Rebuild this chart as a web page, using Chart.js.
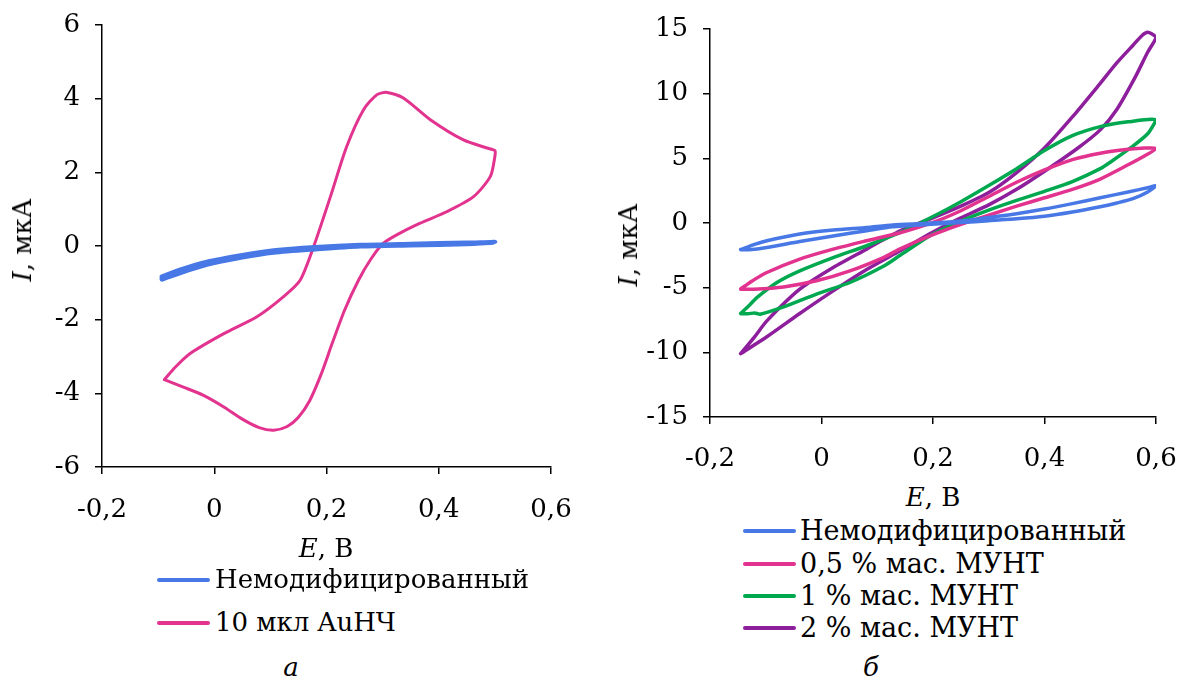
<!DOCTYPE html>
<html>
<head>
<meta charset="utf-8">
<script src="https://cdn.jsdelivr.net/npm/chart.js@4.4.1/dist/chart.umd.min.js"></script>
<style>
    body { margin: 0; background: #fff; }
    #page { position: relative; width: 1180px; height: 682px; overflow: hidden; font-family: "DejaVu Serif", serif; color: #000; }
    canvas { position: absolute; top: 0; }
    .lbl { position: absolute; font-size: 26px; line-height: 1; white-space: nowrap; transform: translate(-50%, -50%); }
    .ytitle { transform: translate(-50%, -50%) rotate(-90deg); }
    .legend { position: absolute; line-height: 1; }
    .legend div { position: absolute; white-space: nowrap; }
    .legend span.ln { position: absolute; height: 4px; border-radius: 2px; }
    #legendA { font-size: 26px; }
    #legendB { font-size: 27px; }
</style>
</head>
<body>
<div id="page">
    <canvas id="chartA" width="590" height="540" style="left:0"></canvas>
    <canvas id="chartB" width="590" height="480" style="left:590px"></canvas>

    <div class="lbl ytitle" style="left:22px; top:240px"><i>I</i>, мкА</div>
    <div class="lbl" style="left:326px; top:548px"><i>E</i>, В</div>
    <div class="lbl ytitle" style="left:628px; top:245px"><i>I</i>, мкА</div>
    <div class="lbl" style="left:933px; top:497px"><i>E</i>, В</div>

    <div class="legend" id="legendA"></div>
    <div class="legend" id="legendB"></div>

    <div class="lbl" style="left:291px; top:667px"><i>а</i></div>
    <div class="lbl" style="left:871px; top:667px"><i>б</i></div>
</div>
<script>
// --- chart а: bare electrode vs 10 µl AuNP ---
const xTicks = [-0.2, 0, 0.2, 0.4, 0.6];
const yTicksA = [-6, -4, -2, 0, 2, 4, 6];
const yTicksB = [-15, -10, -5, 0, 5, 10, 15];

const labelsA = ['Немодифицированный', '10 мкл AuНЧ'];
const labelsB = ['Немодифицированный', '0,5 % мас. МУНТ', '1 % мас. МУНТ', '2 % мас. МУНТ'];

const colors = {
    blue: '#4878E6',
    pink: '#E2338F',
    green: '#00A84F',
    purple: '#8E1F9C'
};

// [E, I] pairs, loop traced around
const bareA = [
    [-0.093, -0.84], [-0.06, -0.65], [-0.013, -0.44], [0.05, -0.26], [0.106, -0.13], [0.18, -0.04],
    [0.26, 0.02], [0.35, 0.05], [0.45, 0.08], [0.5, 0.1],
    [0.45, 0.06], [0.35, 0.03], [0.26, 0.0], [0.18, -0.08], [0.106, -0.17], [0.05, -0.3],
    [-0.013, -0.5], [-0.06, -0.72], [-0.093, -0.9]
];
const auA = [
    [-0.089, -3.63], [-0.07, -3.3], [-0.043, -2.92], [0.017, -2.38], [0.076, -1.92], [0.123, -1.38],
    [0.153, -0.93], [0.177, -0.02], [0.207, 1.34], [0.236, 2.7], [0.266, 3.7], [0.29, 4.11],
    [0.308, 4.17], [0.337, 4.02], [0.385, 3.43], [0.444, 2.88], [0.486, 2.66], [0.5, 2.59],
    [0.5, 2.43], [0.492, 1.89], [0.462, 1.34], [0.414, 0.93], [0.367, 0.62], [0.331, 0.35],
    [0.301, 0.07], [0.278, -0.38], [0.257, -0.93], [0.232, -1.75], [0.21, -2.65], [0.19, -3.5],
    [0.17, -4.2], [0.15, -4.65], [0.13, -4.9], [0.106, -5.0], [0.08, -4.93], [0.05, -4.7],
    [0.017, -4.37], [-0.02, -4.05], [-0.055, -3.83], [-0.089, -3.63]
];

// --- chart б: MWCNT loadings ---
const bareB = [
    [-0.145, -2.05], [-0.12, -1.65], [-0.098, -1.37], [-0.039, -0.85], [0.021, -0.54], [0.081, -0.34],
    [0.128, -0.15], [0.19, -0.02], [0.25, 0.15], [0.3, 0.43], [0.35, 0.72], [0.4, 1.08],
    [0.45, 1.5], [0.5, 1.95], [0.55, 2.4], [0.585, 2.72], [0.6, 2.87],
    [0.585, 2.4], [0.56, 1.9], [0.53, 1.55], [0.5, 1.26], [0.45, 0.85], [0.4, 0.52],
    [0.35, 0.32], [0.3, 0.18], [0.25, 0.03], [0.19, -0.12], [0.128, -0.3], [0.081, -0.6],
    [0.021, -1.0], [-0.039, -1.43], [-0.098, -1.89], [-0.13, -2.07], [-0.145, -2.07]
];
const cnt05 = [
    [-0.145, -5.1], [-0.125, -4.5], [-0.098, -3.83], [-0.039, -2.79], [0.021, -2.02], [0.081, -1.37],
    [0.141, -0.75], [0.2, 0.05], [0.25, 0.95], [0.3, 2.05], [0.35, 3.15], [0.4, 4.1],
    [0.45, 4.9], [0.5, 5.4], [0.55, 5.7], [0.58, 5.8], [0.6, 5.75],
    [0.58, 5.2], [0.55, 4.5], [0.5, 3.4], [0.45, 2.6], [0.4, 1.95], [0.35, 1.3],
    [0.3, 0.6], [0.25, -0.1], [0.2, -0.9], [0.141, -2.0], [0.111, -2.67], [0.051, -3.7],
    [-0.009, -4.47], [-0.068, -4.94], [-0.122, -5.12], [-0.145, -5.12]
];
const cnt1 = [
    [-0.145, -7.0], [-0.128, -6.3], [-0.116, -5.77], [-0.08, -4.6], [-0.039, -3.7], [0.021, -2.67],
    [0.081, -1.76], [0.141, -0.73], [0.2, 0.5], [0.25, 1.65], [0.3, 2.9], [0.35, 4.2],
    [0.4, 5.6], [0.45, 6.75], [0.5, 7.45], [0.55, 7.82], [0.6, 7.98],
    [0.585, 6.9], [0.556, 5.86], [0.518, 4.7], [0.5, 4.2], [0.45, 3.2], [0.4, 2.45],
    [0.35, 1.75], [0.3, 1.0], [0.25, 0.15], [0.2, -0.85], [0.141, -2.5], [0.111, -3.35],
    [0.051, -4.6], [-0.009, -5.5], [-0.068, -6.49], [-0.11, -7.05], [-0.12, -6.95],
    [-0.132, -7.02], [-0.145, -7.0]
];
const cnt2 = [
    [-0.145, -10.1], [-0.12, -8.8], [-0.098, -7.57], [-0.039, -5.12], [0.021, -3.44], [0.081, -2.02],
    [0.141, -0.6], [0.2, 0.4], [0.25, 1.3], [0.3, 2.35], [0.35, 3.9], [0.4, 5.8],
    [0.45, 8.2], [0.5, 10.8], [0.53, 12.4], [0.56, 13.8], [0.575, 14.5],
    [0.585, 14.75], [0.595, 14.55], [0.6, 14.33],
    [0.585, 13.2], [0.563, 11.3], [0.53, 8.8], [0.5, 7.2], [0.46, 5.8], [0.4, 4.0],
    [0.35, 2.6], [0.3, 1.4], [0.25, 0.4], [0.2, -0.7], [0.141, -2.15], [0.081, -3.6],
    [0.021, -5.25], [-0.039, -7.0], [-0.098, -8.8], [-0.145, -10.1]
];

const FONT = { family: '"DejaVu Serif", serif', size: 26 };

function toXY(pairs) {
    return pairs.map(p => ({ x: p[0], y: p[1] }));
}

function fmtComma(value) {
    const v = Math.round(value * 10) / 10;
    return String(v).replace('.', ',');
}

function makeDataset(label, pairs, color, width) {
    return {
        label: label,
        data: toXY(pairs),
        borderColor: color,
        backgroundColor: color,
        borderWidth: width,
        showLine: true,
        fill: false,
        pointRadius: 0,
        tension: 0.25,
        borderJoinStyle: 'round',
        borderCapStyle: 'round'
    };
}

function axisOptions(min, max, ticksList, fitSize, isY, pad) {
    return {
        type: 'linear',
        min: min,
        max: max,
        afterBuildTicks: scale => {
            scale.ticks = ticksList.map(v => ({ value: v }));
        },
        afterFit: scale => {
            if (isY) scale.width = fitSize;
            else scale.height = fitSize;
            // plot area is set by layout.padding alone
            scale.paddingLeft = 0;
            scale.paddingRight = 0;
            scale.paddingTop = 0;
            scale.paddingBottom = 0;
        },
        ticks: {
            color: '#000',
            font: FONT,
            padding: pad,
            maxRotation: 0,
            autoSkip: false,
            callback: value => fmtComma(value)
        },
        grid: {
            drawOnChartArea: false,
            drawTicks: true,
            tickLength: 7,
            color: '#000',
            lineWidth: 1.5
        },
        border: { color: '#000', width: 1.5 }
    };
}

function buildChart(id, datasets, yMin, yMax, yTicks, yWidth, xHeight, xPad, padding) {
    return new Chart(document.getElementById(id), {
        type: 'scatter',
        data: { datasets: datasets },
        options: {
            responsive: false,
            animation: false,
            layout: { padding: padding },
            plugins: {
                legend: { display: false },
                tooltip: { enabled: false }
            },
            scales: {
                x: axisOptions(-0.2, 0.6, xTicks, xHeight, false, xPad),
                y: axisOptions(yMin, yMax, yTicks, yWidth, true, 15)
            }
        }
    });
}

const chartA = buildChart('chartA', [
    makeDataset(labelsA[0], bareA, colors.blue, 5),
    makeDataset(labelsA[1], auA, colors.pink, 3)
], -6, 6, yTicksA, 102, 73, 21, { top: 25, right: 39, left: 0, bottom: 0 });

const chartB = buildChart('chartB', [
    makeDataset(labelsB[0], bareB, colors.blue, 3.5),
    makeDataset(labelsB[1], cnt05, colors.pink, 3.5),
    makeDataset(labelsB[2], cnt1, colors.green, 3.5),
    makeDataset(labelsB[3], cnt2, colors.purple, 3.5)
], -15, 15, yTicksB, 120, 63, 20, { top: 29, right: 24, left: 0, bottom: 0 });

// HTML legends, one entry per row like the original figure
function buildLegend(id, chart, lineLeft, lineWidth, textLeft, rows) {
    const box = document.getElementById(id);
    chart.data.datasets.forEach((ds, i) => {
        const ln = document.createElement('span');
        ln.className = 'ln';
        ln.style.cssText = `left:${lineLeft}px; width:${lineWidth}px; top:${rows[i] - 2}px; background:${ds.borderColor};`;
        box.appendChild(ln);
        const txt = document.createElement('div');
        txt.textContent = ds.label;
        txt.style.cssText = `left:${textLeft}px; top:${rows[i] - 14}px;`;
        box.appendChild(txt);
    });
}

buildLegend('legendA', chartA, 157, 53, 215, [580, 623]);
buildLegend('legendB', chartB, 743, 53, 800, [531, 564, 596, 628]);
</script>
</body>
</html>
